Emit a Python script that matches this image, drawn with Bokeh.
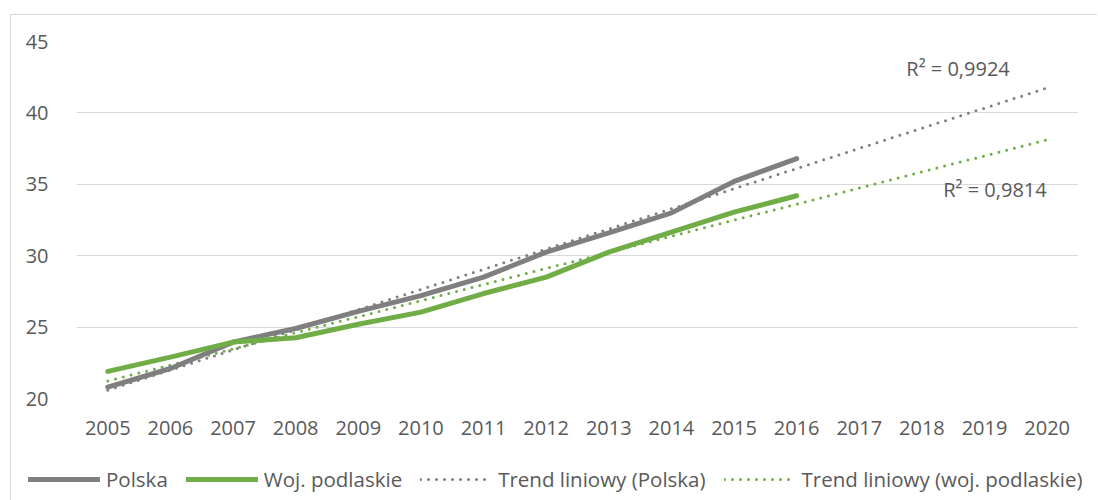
from bokeh.plotting import figure
from bokeh.layouts import column, row
from bokeh.models import Range1d, FixedTicker, Legend, LegendItem, Label
from bokeh.embed import file_html
from bokeh.resources import INLINE

years = [2005, 2006, 2007, 2008, 2009, 2010, 2011, 2012, 2013, 2014, 2015, 2016]
polska = [20.8, 22.1, 23.95, 24.9, 26.1, 27.2, 28.5, 30.25, 31.6, 33.0, 35.2, 36.8]
podlaskie = [21.9, 22.9, 23.95, 24.25, 25.2, 26.05, 27.35, 28.5, 30.25, 31.65, 33.05, 34.2]

trend_years = [2005, 2020]
trend_polska = [20.58, 41.75]
trend_podlaskie = [21.22, 38.12]

x_ticks = list(range(2005, 2021))
y_ticks = [20, 25, 30, 35, 40, 45]
r2_polska = "R² = 0,9924"
r2_podlaskie = "R² = 0,9814"

labels = ["Polska", "Woj. podlaskie", "Trend liniowy (Polska)", "Trend liniowy (woj. podlaskie)"]

GRAY = "#7f7f7f"
GREEN = "#70ad47"
TXT = "#595959"
FONT = "Open Sans"
W = 1086


def styles_solid(color):
    return dict(line_color=color, line_width=5, line_cap="round", line_join="round")


def styles_dotted(color):
    return dict(line_color=color, line_width=3, line_dash="0 8", line_cap="round")


p = figure(width=W, height=441, output_backend="svg", toolbar_location=None,
           x_range=Range1d(2004.5, 2020.5), y_range=Range1d(20, 45),
           min_border_left=65, min_border_right=19, min_border_top=26, min_border_bottom=58)
p.outline_line_color = None
p.background_fill_color = "white"
p.border_fill_color = "white"

p.xgrid.visible = False
p.ygrid.grid_line_color = "#d9d9d9"
p.ygrid.grid_line_width = 1
p.ygrid.ticker = FixedTicker(ticks=y_ticks)

for ax in (p.xaxis[0], p.yaxis[0]):
    ax.axis_line_color = None
    ax.major_tick_line_color = None
    ax.minor_tick_line_color = None
    ax.major_label_text_font = FONT
    ax.major_label_text_font_size = "20px"
    ax.major_label_text_color = TXT
p.xaxis[0].ticker = FixedTicker(ticks=x_ticks)
p.yaxis[0].ticker = FixedTicker(ticks=y_ticks)
p.xaxis[0].major_label_standoff = 16
p.yaxis[0].major_label_standoff = 22

p.line(trend_years, trend_polska, **styles_dotted(GRAY))
p.line(trend_years, trend_podlaskie, **styles_dotted(GREEN))
p.line(years, polska, **styles_solid(GRAY))
p.line(years, podlaskie, **styles_solid(GREEN))

p.add_layout(Label(x=2017.75, y=43.1, text=r2_polska, text_font=FONT, text_font_size="20px",
                   text_color=TXT, text_baseline="middle"))
p.add_layout(Label(x=2018.34, y=34.62, text=r2_podlaskie, text_font=FONT, text_font_size="20px",
                   text_color=TXT, text_baseline="middle"))

# legend strip (its renderers use the same series, but lie outside this strip's ranges)
lf = figure(width=W, height=44, output_backend="svg", toolbar_location=None,
            x_range=Range1d(0, 1), y_range=Range1d(0, 1),
            x_axis_location=None, y_axis_location=None,
            min_border_left=0, min_border_right=0, min_border_top=0, min_border_bottom=0)
lf.grid.visible = False
lf.outline_line_color = None
lf.border_fill_color = "white"
lg_p = lf.line(years, polska, **styles_solid(GRAY))
lg_g = lf.line(years, podlaskie, **styles_solid(GREEN))
lg_tp = lf.line(trend_years, trend_polska, **styles_dotted(GRAY))
lg_tg = lf.line(trend_years, trend_podlaskie, **styles_dotted(GREEN))

legend = Legend(items=[LegendItem(label=labels[0], renderers=[lg_p]),
                       LegendItem(label=labels[1], renderers=[lg_g]),
                       LegendItem(label=labels[2], renderers=[lg_tp]),
                       LegendItem(label=labels[3], renderers=[lg_tg])],
                orientation="horizontal", location=(17, 7),
                glyph_width=72, glyph_height=20, label_standoff=6, spacing=18,
                padding=0, margin=0, border_line_color=None, background_fill_alpha=0,
                label_text_font=FONT, label_text_font_size="20.5px", label_text_color=TXT)
lf.add_layout(legend)

layout = column(p, row(lf), spacing=0,
                styles={"border-left": "1px solid #d9d9d9", "border-top": "1px solid #d9d9d9",
                        "margin-left": "10px", "margin-top": "14px"})

open("out.html", "w").write(file_html(layout, INLINE))
